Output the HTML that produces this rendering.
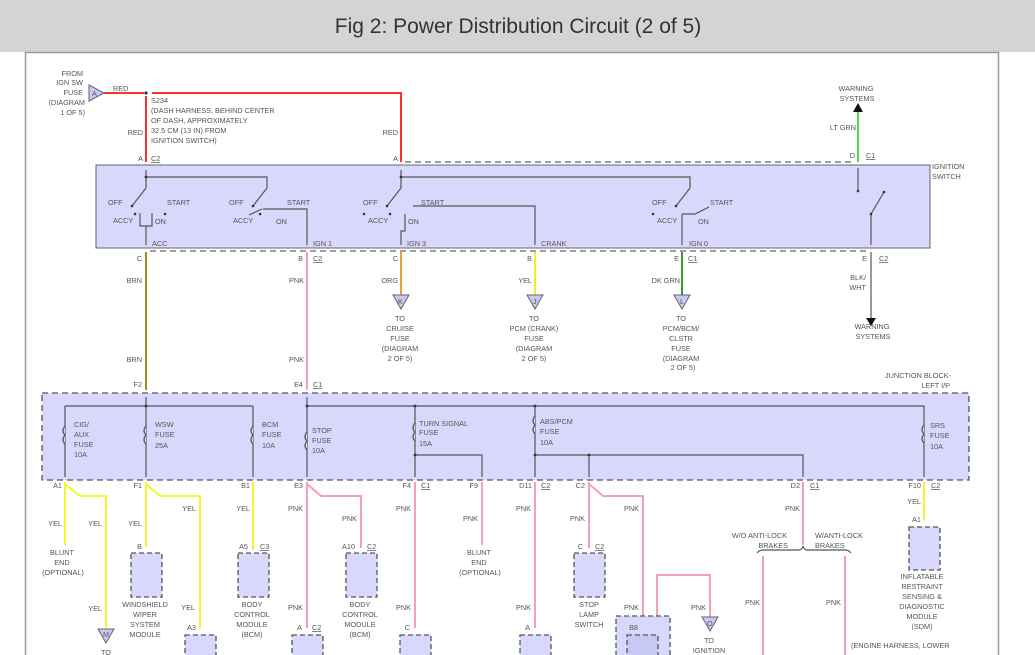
<!DOCTYPE html>
<html><head><meta charset="utf-8"><style>
html,body{margin:0;padding:0;background:#fff;width:1035px;height:655px;overflow:hidden}
svg{display:block}
text{font-family:"Liberation Sans",sans-serif;font-size:7.3px;fill:#555}
</style></head><body>
<svg width="1035" height="655" viewBox="0 0 1035 655" xmlns="http://www.w3.org/2000/svg">
<rect x="0" y="0" width="1035" height="52" fill="#d4d4d4"/>
<text x="518" y="33" text-anchor="middle" style="font-size:21px;fill:#333">Fig 2: Power Distribution Circuit (2 of 5)</text>
<rect x="25.5" y="52.5" width="973" height="620" fill="#fff" stroke="#9a9a9a" stroke-width="1.5"/>

<rect x="96" y="165" width="834" height="83" fill="#d8d8fc" stroke="#666" stroke-width="1"/>
<line x1="405" y1="162" x2="855" y2="162" stroke="#666" stroke-width="1.3" stroke-dasharray="6,4"/>
<line x1="150" y1="251" x2="870" y2="251" stroke="#666" stroke-width="1.3" stroke-dasharray="6,4"/>

<rect x="42" y="393" width="927" height="87" fill="#d8d8fc" stroke="#555" stroke-width="1.3" stroke-dasharray="6,4"/>

<g fill="none" stroke-width="2">
<polyline points="104,93 144,93" stroke="#ff3030"/>
<polyline points="152,93 401,93 401,162" stroke="#ff3030"/>
<line x1="146" y1="96" x2="146" y2="162" stroke="#ff3030"/>
<line x1="858" y1="112" x2="858" y2="162" stroke="#44e044"/>
<line x1="146" y1="252" x2="146" y2="390" stroke="#a08a28"/>
<line x1="307" y1="252" x2="307" y2="390" stroke="#f5a0b4"/>
<line x1="401" y1="252" x2="401" y2="295" stroke="#f0a030"/>
<line x1="535" y1="252" x2="535" y2="295" stroke="#f0f020"/>
<line x1="682" y1="252" x2="682" y2="295" stroke="#30a030"/>
<line x1="871" y1="252" x2="871" y2="318" stroke="#999"/>
<polyline points="65,482 65,545" stroke="#f4f430"/>
<polyline points="65,484 80,496 106,496 106,628" stroke="#f4f430"/>
<polyline points="146,482 146,547" stroke="#f4f430"/>
<polyline points="146,484 160,496 200,496 200,628" stroke="#f4f430"/>
<polyline points="253,482 253,550" stroke="#f4f430"/>
<polyline points="924,482 924,520" stroke="#f4f430"/>
<g stroke="#f5a0b4">
<polyline points="307,482 307,628"/>
<polyline points="307,484 321,496 361,496 361,548"/>
<polyline points="415,482 415,628"/>
<polyline points="482,482 482,545"/>
<polyline points="535,482 535,628"/>
<polyline points="589,482 589,548"/>
<polyline points="589,484 603,496 643,496 643,632"/>
<polyline points="643,632 657,616 657,575 710,575 710,618"/>
<polyline points="803,482 803,545"/>
<line x1="763" y1="556" x2="763" y2="655"/>
<line x1="845" y1="556" x2="845" y2="655"/>
</g>
</g>

<g fill="none" stroke="#555" stroke-width="1.2">
<polyline points="146,170 146,188"/>
<polyline points="146,177 267,177 267,188"/>
<line x1="146" y1="188" x2="132" y2="206"/>
<line x1="267" y1="188" x2="253" y2="206"/>
<polyline points="140,213 140,226 152,226 152,213"/>
<line x1="146" y1="226" x2="146" y2="245"/>
<line x1="249" y1="215" x2="262" y2="209"/>
<polyline points="263,209 307,209 307,245" />
<polyline points="401,170 401,188"/>
<polyline points="401,177 690,177 690,188"/>
<line x1="401" y1="188" x2="387" y2="206"/>
<polyline points="405,214 405,231 401,231 401,245"/>
<polyline points="413,206 535,206 535,245"/>
<line x1="690" y1="188" x2="676" y2="206"/>
<polyline points="682,214 682,245"/>
<polyline points="682,214 695,214 709,207"/>
<line x1="858" y1="168" x2="858" y2="191"/>
<line x1="871" y1="214" x2="884" y2="192"/>
<line x1="871" y1="214" x2="871" y2="245"/>
<polyline points="65,406 253,406"/>
<polyline points="146,397 146,477"/>
<polyline points="65,406 65,477"/>
<polyline points="253,406 253,477"/>
<polyline points="307,397 307,477"/>
<polyline points="307,406 924,406 924,477"/>
<polyline points="415,406 415,477"/>
<polyline points="415,455 482,455 482,477"/>
<polyline points="535,406 535,477"/>
<polyline points="535,455 803,455 803,477"/>
<polyline points="589,455 589,477"/>
<path d="M757,553 q2,-3 6,-3 L799,550 q3,0 4,-4 q1,4 4,4 L845,550 q4,0 6,3"/>
</g>
<g fill="#d8d8fc" stroke="#555" stroke-width="1.2">
<path d="M65,426 q-4,5 0,9 q-4,5 0,9" /><path d="M146,426 q-4,5 0,9 q-4,5 0,9"/><path d="M253,426 q-4,5 0,9 q-4,5 0,9"/>
<path d="M307,432 q-4,5 0,9 q-4,5 0,9"/><path d="M415,423 q-4,5 0,9 q-4,5 0,9"/><path d="M535,416 q-4,5 0,9 q-4,5 0,9"/><path d="M924,425 q-4,5 0,9 q-4,5 0,9"/>
</g>
<g fill="#333">
<circle cx="146" cy="93" r="1.6"/><circle cx="146" cy="177" r="1.4"/><circle cx="401" cy="177" r="1.4"/>
<circle cx="146" cy="406" r="1.4"/><circle cx="307" cy="406" r="1.4"/><circle cx="415" cy="406" r="1.4"/><circle cx="535" cy="406" r="1.4"/>
<circle cx="415" cy="455" r="1.4"/><circle cx="535" cy="455" r="1.4"/><circle cx="589" cy="455" r="1.4"/>
<circle cx="132" cy="206" r="1.3"/><circle cx="253" cy="206" r="1.3"/><circle cx="387" cy="206" r="1.3"/><circle cx="676" cy="206" r="1.3"/>
<circle cx="135" cy="214" r="1.3"/><circle cx="165" cy="214" r="1.3"/><circle cx="260" cy="214" r="1.3"/><circle cx="364" cy="214" r="1.3"/><circle cx="390" cy="214" r="1.3"/><circle cx="653" cy="214" r="1.3"/>
<circle cx="858" cy="191" r="1.3"/><circle cx="884" cy="192" r="1.3"/><circle cx="871" cy="214" r="1.3"/>
</g>
<polygon points="853,112 863,112 858,103" fill="#111"/>
<polygon points="866,318 876,318 871,326" fill="#111"/>
<g fill="#c8c8f4" stroke="#666" stroke-width="1">
<polygon points="89,85 89,101 104,93"/>
<polygon points="393,295 409,295 401,309"/><polygon points="527,295 543,295 535,309"/><polygon points="674,295 690,295 682,309"/>
<polygon points="98,629 114,629 106,643"/><polygon points="702,617 718,617 710,631"/>
</g>
<g style="font-size:6.5px"><text x="92" y="96">A</text><text x="398" y="304">K</text><text x="533" y="304">J</text><text x="680" y="304">L</text><text x="103" y="637">M</text><text x="707" y="626">O</text></g>

<g fill="#d8d8fc" stroke="#555" stroke-width="1.3" stroke-dasharray="5,3">
<rect x="131" y="553" width="31" height="44"/>
<rect x="238" y="553" width="31" height="44"/>
<rect x="346" y="553" width="31" height="44"/>
<rect x="574" y="553" width="31" height="44"/>
<rect x="909" y="527" width="31" height="43"/>
<rect x="185" y="635" width="31" height="30"/>
<rect x="292" y="635" width="31" height="30"/>
<rect x="400" y="635" width="31" height="30"/>
<rect x="520" y="635" width="31" height="30"/>
<rect x="616" y="616" width="54" height="50"/>
<rect x="627" y="635" width="31" height="30" fill="#c8c8f4"/>
</g>

<g text-anchor="end">
<text x="83" y="76">FROM</text><text x="83" y="85">IGN SW</text><text x="83" y="95">FUSE</text><text x="85" y="105">(DIAGRAM</text><text x="85" y="115">1 OF 5)</text>
<text x="143" y="135">RED</text><text x="398" y="135">RED</text>
<text x="856" y="130">LT GRN</text>
<text x="142" y="283">BRN</text><text x="142" y="362">BRN</text><text x="304" y="283">PNK</text><text x="304" y="362">PNK</text>
<text x="398" y="283">ORG</text><text x="532" y="283">YEL</text><text x="680" y="283">DK GRN</text>
<text x="866" y="280">BLK/</text><text x="866" y="290">WHT</text>
<text x="62" y="526">YEL</text><text x="102" y="526">YEL</text><text x="142" y="526">YEL</text><text x="196" y="511">YEL</text><text x="250" y="511">YEL</text>
<text x="303" y="511">PNK</text><text x="357" y="521">PNK</text><text x="411" y="511">PNK</text><text x="478" y="521">PNK</text><text x="531" y="511">PNK</text>
<text x="585" y="521">PNK</text><text x="639" y="511">PNK</text><text x="800" y="511">PNK</text><text x="921" y="504">YEL</text>
<text x="102" y="611">YEL</text><text x="195" y="610">YEL</text><text x="303" y="610">PNK</text><text x="411" y="610">PNK</text><text x="531" y="610">PNK</text>
<text x="639" y="610">PNK</text><text x="706" y="610">PNK</text><text x="760" y="605">PNK</text><text x="841" y="605">PNK</text>
<text x="143" y="161">A</text><text x="398" y="161">A</text><text x="855" y="158">D</text>
<text x="142" y="261">C</text><text x="303" y="261">B</text><text x="398" y="261">C</text><text x="532" y="261">B</text><text x="679" y="261">E</text><text x="867" y="261">E</text>
<text x="142" y="387">F2</text><text x="303" y="387">E4</text>
<text x="62" y="488">A1</text><text x="142" y="488">F1</text><text x="250" y="488">B1</text><text x="303" y="488">E3</text><text x="411" y="488">F4</text><text x="478" y="488">F9</text><text x="532" y="488">D11</text><text x="585" y="488">C2</text><text x="800" y="488">D2</text><text x="921" y="488">F10</text>
<text x="142" y="549">B</text><text x="248" y="549">A5</text><text x="355" y="549">A10</text><text x="583" y="549">C</text><text x="921" y="522">A1</text>
<text x="196" y="630">A3</text><text x="302" y="630">A</text><text x="410" y="630">C</text><text x="530" y="630">A</text><text x="638" y="630">B8</text>
</g>
<g>
<text x="113" y="91">RED</text>
<text x="151" y="103">S234</text><text x="151" y="113">(DASH HARNESS, BEHIND CENTER</text><text x="151" y="123">OF DASH, APPROXIMATELY</text><text x="151" y="133">32.5 CM (13 IN) FROM</text><text x="151" y="143">IGNITION SWITCH)</text>
<text x="151" y="161" text-decoration="underline">C2</text><text x="866" y="158" text-decoration="underline">C1</text>
<text x="932" y="169">IGNITION</text><text x="932" y="179">SWITCH</text>
<text x="108" y="205">OFF</text><text x="167" y="205">START</text><text x="113" y="223">ACCY</text><text x="155" y="224">ON</text>
<text x="229" y="205">OFF</text><text x="287" y="205">START</text><text x="233" y="223">ACCY</text><text x="276" y="224">ON</text>
<text x="363" y="205">OFF</text><text x="421" y="205">START</text><text x="368" y="223">ACCY</text><text x="408" y="224">ON</text>
<text x="652" y="205">OFF</text><text x="710" y="205">START</text><text x="657" y="223">ACCY</text><text x="698" y="224">ON</text>
<text x="152" y="246">ACC</text><text x="313" y="246">IGN 1</text><text x="407" y="246">IGN 3</text><text x="541" y="246">CRANK</text><text x="689" y="246">IGN 0</text>
<text x="313" y="261" text-decoration="underline">C2</text><text x="688" y="261" text-decoration="underline">C1</text><text x="879" y="261" text-decoration="underline">C2</text>
<text x="313" y="387" text-decoration="underline">C1</text>
<text x="421" y="488" text-decoration="underline">C1</text><text x="541" y="488" text-decoration="underline">C2</text><text x="810" y="488" text-decoration="underline">C1</text><text x="931" y="488" text-decoration="underline">C2</text>
<text x="260" y="549" text-decoration="underline">C3</text><text x="367" y="549" text-decoration="underline">C2</text><text x="595" y="549" text-decoration="underline">C2</text>
<text x="312" y="630" text-decoration="underline">C2</text>
<text x="74" y="427">CIG/</text><text x="74" y="437">AUX</text><text x="74" y="447">FUSE</text><text x="74" y="457">10A</text>
<text x="155" y="427">WSW</text><text x="155" y="437">FUSE</text><text x="155" y="448">25A</text>
<text x="262" y="427">BCM</text><text x="262" y="437">FUSE</text><text x="262" y="448">10A</text>
<text x="312" y="433">STOP</text><text x="312" y="443">FUSE</text><text x="312" y="453">10A</text>
<text x="419" y="426">TURN SIGNAL</text><text x="419" y="435">FUSE</text><text x="419" y="446">15A</text>
<text x="540" y="424">ABS/PCM</text><text x="540" y="434">FUSE</text><text x="540" y="445">10A</text>
<text x="930" y="428">SRS</text><text x="930" y="438">FUSE</text><text x="930" y="449">10A</text>
</g>
<g text-anchor="middle">
<text x="856" y="91">WARNING</text><text x="857" y="101">SYSTEMS</text>
<text x="872" y="329">WARNING</text><text x="873" y="339">SYSTEMS</text>
<text x="400" y="321">TO</text><text x="400" y="331">CRUISE</text><text x="400" y="341">FUSE</text><text x="400" y="351">(DIAGRAM</text><text x="400" y="361">2 OF 5)</text>
<text x="534" y="321">TO</text><text x="534" y="331">PCM (CRANK)</text><text x="534" y="341">FUSE</text><text x="534" y="351">(DIAGRAM</text><text x="534" y="361">2 OF 5)</text>
<text x="681" y="321">TO</text><text x="681" y="331">PCM/BCM/</text><text x="681" y="341">CLSTR</text><text x="681" y="351">FUSE</text><text x="681" y="361">(DIAGRAM</text><text x="683" y="370">2 OF 5)</text>
<text x="62" y="555">BLUNT</text><text x="62" y="565">END</text><text x="63" y="575">(OPTIONAL)</text>
<text x="479" y="555">BLUNT</text><text x="479" y="565">END</text><text x="480" y="575">(OPTIONAL)</text>
<text x="145" y="607">WINDSHIELD</text><text x="145" y="617">WIPER</text><text x="145" y="627">SYSTEM</text><text x="145" y="637">MODULE</text>
<text x="252" y="607">BODY</text><text x="252" y="617">CONTROL</text><text x="252" y="627">MODULE</text><text x="252" y="637">(BCM)</text>
<text x="360" y="607">BODY</text><text x="360" y="617">CONTROL</text><text x="360" y="627">MODULE</text><text x="360" y="637">(BCM)</text>
<text x="589" y="607">STOP</text><text x="589" y="617">LAMP</text><text x="589" y="627">SWITCH</text>
<text x="922" y="579">INFLATABLE</text><text x="922" y="589">RESTRAINT</text><text x="922" y="599">SENSING &amp;</text><text x="922" y="609">DIAGNOSTIC</text><text x="922" y="619">MODULE</text><text x="922" y="629">(SDM)</text>
<text x="709" y="643">TO</text><text x="709" y="653">IGNITION</text>
<text x="106" y="655">TO</text>
</g>
<text x="918" y="378" text-anchor="middle">JUNCTION BLOCK-</text><text x="950" y="388" text-anchor="end">LEFT I/P</text>
<text x="787" y="538" text-anchor="end">W/O ANTI-LOCK</text><text x="788" y="548" text-anchor="end">BRAKES</text>
<text x="815" y="538">W/ANTI-LOCK</text><text x="815" y="548">BRAKES</text>
<text x="851" y="648">(ENGINE HARNESS, LOWER</text>
</svg>
</body></html>
